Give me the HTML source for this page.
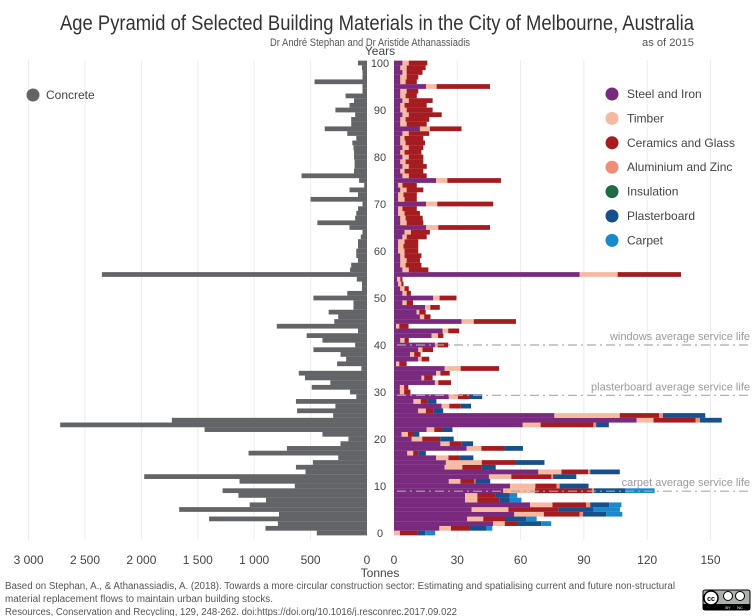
<!DOCTYPE html>
<html><head><meta charset="utf-8"><style>
html,body{margin:0;padding:0;background:#fff;}
svg{display:block;font-family:"Liberation Sans",sans-serif;}
</style></head><body>
<svg id="chart" width="754" height="616" viewBox="0 0 754 616" xmlns="http://www.w3.org/2000/svg">
<text x="60" y="30" font-size="21" fill="#333" textLength="634" lengthAdjust="spacingAndGlyphs">Age Pyramid of Selected Building Materials in the City of Melbourne, Australia</text>
<text x="270" y="46" font-size="11" fill="#555" textLength="200" lengthAdjust="spacingAndGlyphs">Dr André Stephan and Dr Aristide Athanassiadis</text>
<text x="642" y="46" font-size="11" fill="#555" textLength="52" lengthAdjust="spacingAndGlyphs">as of 2015</text>
<text x="380" y="55" font-size="12" fill="#444" text-anchor="middle">Years</text>
<text x="380" y="577" font-size="12" fill="#444" text-anchor="middle">Tonnes</text>
<g id="grid"></g><g id="bars"></g><g id="ref"></g><g id="axes"></g><g id="legend"></g>
<text x="5" y="589" font-size="10" fill="#555" textLength="670" lengthAdjust="spacingAndGlyphs">Based on Stephan, A., &amp; Athanassiadis, A. (2018). Towards a more circular construction sector: Estimating and spatialising current and future non-structural</text>
<text x="5" y="602" font-size="10" fill="#555" textLength="268" lengthAdjust="spacingAndGlyphs">material replacement flows to maintain urban building stocks.</text>
<text x="5" y="615" font-size="10" fill="#555" textLength="452" lengthAdjust="spacingAndGlyphs">Resources, Conservation and Recycling, 129, 248-262. doi:https://doi.org/10.1016/j.resconrec.2017.09.022</text>
<g>
<rect x="703" y="590" width="47" height="20" rx="2" fill="#aab2ab" stroke="#000" stroke-width="1"/>
<rect x="703" y="604" width="47" height="6" fill="#000"/>
<circle cx="711" cy="598" r="7" fill="#fff" stroke="#000" stroke-width="1.5"/>
<text x="711" y="601" font-size="7" text-anchor="middle" font-weight="bold">cc</text>
<circle cx="728" cy="596" r="4.5" fill="#fff" stroke="#000"/>
<circle cx="740" cy="596" r="4.5" fill="#fff" stroke="#000"/>
<text x="728" y="609" font-size="4" fill="#fff" text-anchor="middle">BY</text>
<text x="740" y="609" font-size="4" fill="#fff" text-anchor="middle">NC</text>
</g>
</svg>
<script>
const years = Array.from({length:101},(_,i)=>i);
const concrete = [445,900,790,1400,780,1665,1040,895,1140,1280,640,1130,1975,545,630,480,255,1050,710,235,165,395,1440,2720,1730,300,620,280,630,95,150,490,325,550,605,50,265,185,235,475,105,395,535,80,800,290,255,340,120,120,475,175,45,45,90,2350,150,140,80,95,95,80,80,55,40,155,440,105,95,80,40,500,80,155,25,70,580,115,110,110,115,115,120,130,95,175,375,140,140,105,280,155,115,190,40,40,465,40,40,45,80,120];
const steel = [0,21.5,47,34.7,57,36.8,64.5,33.7,33.7,51.8,55,26,45,68.4,24,24.6,20,6.3,34.4,22,8.4,3.6,15.5,61,115,76,11.5,22.6,9.2,26,2.8,2.8,19.4,13,20,24,1,11.5,7.6,11.5,19.4,3,17.8,23,1,32,12.3,10.7,14.7,4,18.6,4,3,2,1.5,88,4,3,3,3,2,2,2,4,5,15.2,3,3,2,2,15.2,2,2,3,2,20,4,3,4,3,4,3,4,3,3,4,12.3,3,3,4,3,3,4,3,3,15.2,3,3,4,3,4];
const timber = [2.8,5.5,5.5,7.6,14,17.4,10.6,5.8,5.8,15,12,5.5,10.6,11,8.4,17,5.8,2.8,7,4.4,5,3,3.6,8.5,8,31,3.6,3.6,3.5,4.3,2,2,1.6,1.3,2,7.6,1.5,1.6,2,2,1.3,2,3,2.7,1.5,5.8,2,1.3,2.5,2,3,2,2,1.5,1.5,18,3,2.5,3,2,3,2.5,3,2,3,5.8,3,2.5,3,2,5.3,3,2.5,3,2,5.3,3,2,3,2.5,3,2,3,2.5,2,3,4.7,3,2.5,3,3,2,3,2.5,3,5,2.5,3,2,3,3];
const ceramics = [8.4,9,6.3,10.3,17,23.7,16,10.4,8.8,27,10,6.6,19,12.6,9,16,5.2,2.4,11,5.7,8.5,2.4,3.9,25,20,18.6,3.5,5.4,3,5.5,3,2,6,4,4.4,18.2,3.5,3.6,3,5,5,2,2.6,5.2,4.4,20,3,3,4.5,3,8,2,2,1,1,30,9.3,7.5,6.3,8,6.5,7,6.5,9.5,9,24.5,7.9,8.1,7.3,6.8,26.5,5.8,6.3,7.9,6.8,25.4,8.5,8.9,8.5,8.4,6.9,8,6.9,9.2,8.9,9.7,15,9.5,11.2,15.6,12.3,10.5,11.3,5.3,5.5,25.3,5.3,5.5,7.5,9,8.8];
const aluminium = [0,0,0,0,1.6,0,1.9,0,0,1,1.5,0.5,0.8,1,0,0,0,0,0,0,0,0,0,1.3,2,1.9,0,0,0,0,0,0,0,0,0,0,0,0,0,0,0,0,0,0,0,0,0,0,0,0,0,0,0,0,0,0,0,0,0,0,0,0,0,0,0,0,0,0,0,0,0,0,0,0,0,0,0,0,0,0,0,0,0,0,0,0,0,0,0,0,0,0,0,0,0,0,0,0,0,0,0];
const insulation = [0,0,0,0,0,0,0,0,0,0,0,0,0,0,0,0,0,0,0,0,0,0,0,0,0,0,0,0,0,0,0,0,0,0,0,0,0,0,0,0,0,0,0,0,0,0,0,0,0,0,0,0,0,0,0,0,0,0,0,0,0,0,0,0,0,0,0,0,0,0,0,0,0,0,0,0,0,0,0,0,0,0,0,0,0,0,0,0,0,0,0,0,0,0,0,0,0,0,0,0,0];
const plasterboard = [3.6,7.6,11,10,11,16.6,9,5,6.6,15,13.7,7,11,14,6.8,13.7,6.6,3.6,8.7,5.4,6.4,3,4.7,6,10.3,20,4.7,4.9,4.4,6,0,0,0,0,0,0,0,0,0,0,0,0,0,0,0,0,0,0,0,0,0,0,0,0,0,0,0,0,0,0,0,0,0,0,0,0,0,0,0,0,0,0,0,0,0,0,0,0,0,0,0,0,0,0,0,0,0,0,0,0,0,0,0,0,0,0,0,0,0,0,0];
const carpet = [4.7,3,4.7,5,7.6,12.6,5.8,5.5,3.5,13.7,0,0,0,0,0,0,0,0,0,0,0,0,0,0,0,0,0,0,0,0,0,0,0,0,0,0,0,0,0,0,0,0,0,0,0,0,0,0,0,0,0,0,0,0,0,0,0,0,0,0,0,0,0,0,0,0,0,0,0,0,0,0,0,0,0,0,0,0,0,0,0,0,0,0,0,0,0,0,0,0,0,0,0,0,0,0,0,0,0,0,0];
const seriesNames = ["Steel and Iron","Timber","Ceramics and Glass","Aluminium and Zinc","Insulation","Plasterboard","Carpet"];
const leftTicks = [3000,2500,2000,1500,1000,500,0];
const leftTickLabels = ["3 000","2 500","2 000","1 500","1 000","500","0"];
const rightTicks = [0,30,60,90,120,150];
const yearTicks = [0,10,20,30,40,50,60,70,80,90,100];
const refLabels = ["windows  average service life","plasterboard  average service life","carpet average service life"];
const refYears = [40,29.3,8.9];

const colors = ["#7a2a7e","#f6b9a2","#a41c20","#ef8d76","#1e6b45","#154f8c","#1b88cb"];
const NS="http://www.w3.org/2000/svg";
const xL = v => 367 - v*0.1128;
const xR = v => 394 + v*2.11;
const yC = i => 533 - i*4.7;
const BH = 4.75;
function mk(tag, attrs, parent){const e=document.createElementNS(NS,tag);for(const k in attrs)e.setAttribute(k,attrs[k]);parent.appendChild(e);return e;}
const grid=document.getElementById('grid'), bars=document.getElementById('bars'), ref=document.getElementById('ref'), axes=document.getElementById('axes'), legend=document.getElementById('legend');

leftTicks.forEach((t,k)=>{
  if(t>0){const g=mk('line',{x1:xL(t),x2:xL(t),y1:60,y2:540,stroke:'#ececec','stroke-width':1},grid);
  
  }
  const tx=mk('text',{x:xL(t),y:564,'font-size':12,fill:'#444','text-anchor':'middle'},axes);
  tx.textContent=leftTickLabels[k];
  
  
});
rightTicks.forEach(t=>{
  if(t>0){const g=mk('line',{x1:xR(t),x2:xR(t),y1:60,y2:540,stroke:'#ececec','stroke-width':1},grid);
  
  }
  const tx=mk('text',{x:xR(t),y:564,'font-size':12,fill:'#444','text-anchor':'middle'},axes);
  tx.textContent=String(t);
  
  
});
yearTicks.forEach(t=>{
  const tx=mk('text',{x:380,y:yC(t)+4,'font-size':11,fill:'#444','text-anchor':'middle'},axes);
  tx.textContent=String(t);
  
  
});

const series=[steel,timber,ceramics,aluminium,insulation,plasterboard,carpet];
years.forEach(i=>{
  const c=concrete[i];
  const r=mk('rect',{x:xL(c),y:yC(i)-BH/2,width:xL(0)-xL(c),height:BH,fill:'#636468'},bars);
  
  
  let acc=0;
  series.forEach((s,k)=>{
    const v=s[i];
    if(v>0){
      const b=mk('rect',{x:xR(acc),y:yC(i)-BH/2,width:xR(acc+v)-xR(acc),height:BH,fill:colors[k]},bars);
      
      
    }
    acc+=v;
  });
});

refYears.forEach((yr,k)=>{
  const l=mk('line',{x1:397,x2:752,y1:yC(yr),y2:yC(yr),stroke:'#aaa','stroke-width':1.2,'stroke-dasharray':'9,4,2,4'},ref);
  
  
  const t=mk('text',{x:750,y:yC(yr)-5,'font-size':11,fill:'#9a9a9a','text-anchor':'end'},ref);
  t.textContent=refLabels[k];
  
  
});

const cc=mk('circle',{cx:33,cy:95,r:6.5,fill:'#636468'},legend);


const ct=mk('text',{x:46,y:99,'font-size':12,fill:'#444'},legend);
ct.textContent='Concrete';


seriesNames.forEach((n,k)=>{
  const y=94+k*24.4;
  const c=mk('circle',{cx:612,cy:y,r:6.5,fill:colors[k]},legend);
  
  
  const t=mk('text',{x:627,y:y+4,'font-size':12,fill:'#444'},legend);
  t.textContent=n;
  
  
});
</script>
</body></html>
